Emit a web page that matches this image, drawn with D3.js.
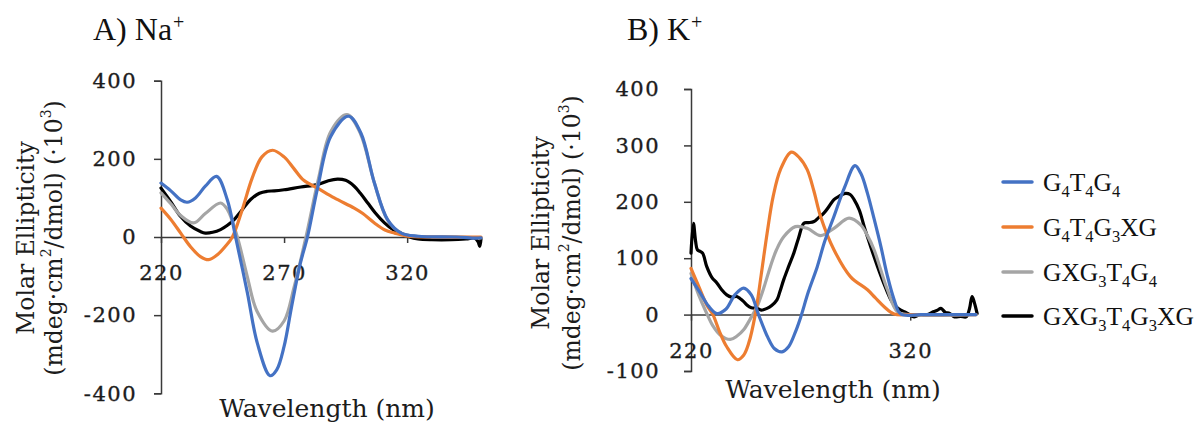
<!DOCTYPE html>
<html>
<head>
<meta charset="utf-8">
<script src="https://cdn.jsdelivr.net/npm/d3@7"></script>
<style>
  html, body { margin: 0; padding: 0; background: #fff; }
  svg { display: block; }
</style>
</head>
<body>
<svg id="chart" width="1198" height="425"></svg>
<script>
// ---- Series names and colours -------------------------------------------
const seriesNames = ["G4T4G4", "G4T4G3XG", "GXG3T4G4", "GXG3T4G3XG"];
const seriesColors = ["#4472C4", "#ED7D31", "#A5A5A5", "#000000"];

// ---- Axis ticks -----------------------------------------------------------
const naXTicks = [220, 270, 320];
const naYTicks = [-400, -200, 0, 200, 400];
const kXTicks = [220, 320];
const kYTicks = [-100, 0, 100, 200, 300, 400];

// ---- Panel A: Na+ (wavelength nm, ellipticity x10^3) ---------------------
const naBlueWl = [220, 224, 228, 230.6, 234, 238, 242.6, 246.9, 250.3, 255.1, 259.1, 264.3, 267, 270, 273, 276.5, 279.5, 283.6, 289, 296.2, 301.2, 306.7, 312.1, 317.6, 324.4, 340, 348, 350];
const naBlueCd = [138, 118, 95, 89, 100, 130, 155, 96, 0, -143, -271, -355, -340, -280, -180, -70, 0, 125, 258, 309, 266, 138, 44, 10, 2, 0, -3, -2];

const naOrangeWl = [220, 224, 228, 232, 236, 239.4, 243, 246, 249, 253, 257, 261, 265.3, 270, 274, 278, 283.6, 290.4, 298.5, 302, 306.7, 311, 314.9, 320, 330, 350];
const naOrangeCd = [74, 45, 10, -25, -50, -58, -45, -25, 0, 70, 150, 205, 222, 205, 175, 145, 125, 100, 74, 60, 36, 18, 10, 2, 0, 0];

const naGrayWl = [220, 224, 228, 233.3, 238, 244.2, 247, 251, 255, 259, 265.3, 270, 274, 278.9, 284, 289, 295.6, 301, 306.7, 312, 317.6, 324, 340, 350];
const naGrayCd = [113, 85, 55, 36, 60, 87, 70, 0, -100, -190, -241, -215, -130, 0, 150, 270, 313, 265, 138, 44, 10, 2, 0, -2];

const naBlackWl = [220, 224, 227.9, 232, 236, 238, 241, 244.2, 247, 249.6, 253, 256.4, 260, 263.2, 266, 270, 276.8, 283.6, 288, 291.7, 295, 298.5, 301, 304, 307, 310.8, 314, 317.6, 321, 324.4, 330, 338, 344, 347.5, 348.8, 349.5, 350];
const naBlackCd = [125, 90, 53, 28, 14, 10, 12, 19, 30, 44, 70, 96, 112, 117, 118, 121, 128, 134, 144, 148, 145, 130, 112, 87, 62, 36, 20, 10, 0, -5, -7, -7, -5, -3, -12, -24, -5];

// ---- Panel B: K+ ---------------------------------------------------------
const kBlueWl = [220, 224, 228, 231.8, 236, 240, 244, 247.5, 250.8, 255, 258, 261.5, 264.5, 267.5, 270, 273.5, 277.6, 281, 285.2, 290, 294.8, 297.5, 300.5, 303.5, 306.6, 309.5, 312.7, 315.7, 325, 340, 350];
const kBlueCd = [64, 40, 15, 2, 10, 35, 47, 35, 0, -40, -60, -66, -57, -32, -5, 40, 85, 130, 174, 225, 264, 250, 215, 170, 121, 70, 26, 1, 0, 0, 0];

const kOrangeWl = [220, 223, 227.2, 230, 233, 236.3, 241.2, 244, 246.3, 249.3, 252, 254.7, 257.5, 260.8, 265.7, 269.5, 273, 276, 279.1, 285.2, 292.8, 300.5, 304, 308.1, 312.7, 320, 350];
const kOrangeCd = [82, 55, 17, 0, -30, -57, -80, -72, -51, 0, 70, 144, 210, 257, 288, 278, 257, 220, 174, 115, 67, 44, 30, 14, 1, 0, 0];

const kGrayWl = [220, 223.5, 227.2, 230, 233.3, 237.9, 241, 244, 247, 250.1, 253, 256.2, 259, 262.3, 267.6, 273, 279.1, 285.2, 292.1, 297.4, 300.5, 303.5, 306.5, 309.6, 314.2, 320, 350];
const kGrayCd = [73, 35, 2, -20, -36, -44, -38, -27, -8, 14, 45, 85, 115, 138, 156, 153, 140, 153, 171, 159, 140, 115, 80, 44, 5, 0, 0];

const kBlackWl = [220, 221.1, 222.1, 222.9, 224.2, 225.3, 227.2, 229.5, 231.8, 234, 236.3, 238.5, 240.9, 242.5, 243.8, 245.5, 247.5, 250.1, 252, 254.7, 256.8, 259.2, 260.5, 262.3, 264.5, 266.9, 269, 271.5, 273.5, 276.1, 278.2, 280.6, 283, 285.2, 287.6, 290.5, 292.6, 294.4, 296.8, 299, 302, 305.1, 308, 311.2, 313.3, 315.7, 318, 321.8, 324.5, 327.9, 330.5, 332.5, 334, 336, 338, 340.2, 343, 345.5, 347, 348.2, 349.2, 350.5];
const kBlackCd = [109, 162, 130, 115, 112, 109, 85, 66, 56, 44, 35, 31, 32, 28, 24, 17, 12, 11, 8, 11, 16, 26, 40, 62, 85, 109, 135, 162, 163, 165, 172, 180, 192, 204, 210, 215, 213, 204, 185, 156, 120, 85, 55, 26, 15, 8, 4, -4, 0, 0, 5, 8, 11, 4, 2, -4, -3, -4, 10, 32, 22, 2];

// ---- Drawing ---------------------------------------------------------------
const svg = d3.select("#chart");
const axisColor = "#3a3a3a";
const textColor = "#1c1c1c";
const serifTick = "'DejaVu Serif', serif";
const serifTitle = "'Liberation Serif', 'Times New Roman', serif";
const plainNumber = d => String(d);   // hyphen-minus for negatives

function styleTickText(sel) {
  sel.attr("font-family", serifTick).attr("font-size", 21).attr("letter-spacing", 1.5)
    .attr("fill", textColor).attr("stroke", textColor).attr("stroke-width", 0.35);
}

function drawPanel(cfg) {
  const g = svg.append("g");
  const x = d3.scaleLinear().domain([220, 350]).range(cfg.xRange);
  const y = d3.scaleLinear().domain(cfg.yDomain).range(cfg.yRange);

  // y axis with outward ticks
  const yAxis = g.append("g")
    .attr("transform", `translate(${cfg.xRange[0]},0)`)
    .call(d3.axisLeft(y).tickValues(cfg.yTicks).tickSize(7).tickPadding(cfg.yPad).tickFormat(plainNumber));
  styleTickText(yAxis.selectAll("text"));

  // x axis along the zero line, ticks hanging below
  const xAxis = g.append("g")
    .attr("transform", `translate(0,${y(0)})`)
    .call(d3.axisBottom(x).tickValues(cfg.xTicks).tickSize(6).tickSizeOuter(0).tickPadding(22).tickFormat(plainNumber));
  styleTickText(xAxis.selectAll("text"));

  [yAxis, xAxis].forEach(a => {
    a.select(".domain").attr("stroke", axisColor).attr("stroke-width", 1.5);
    a.selectAll(".tick line").attr("stroke", axisColor).attr("stroke-width", 1.5);
  });

  // spectra: black underneath, blue on top
  const line = d3.line()
    .x(d => x(d[0])).y(d => y(d[1]))
    .curve(d3.curveCatmullRom.alpha(0.5));
  [3, 2, 1, 0].forEach(i => {
    const s = cfg.series[i];
    const pts = s.wl.map((w, k) => [w, s.cd[k]]);
    g.append("path")
      .datum(pts)
      .attr("fill", "none")
      .attr("stroke", seriesColors[i])
      .attr("stroke-width", 3.2)
      .attr("stroke-linejoin", "round")
      .attr("stroke-linecap", "round")
      .attr("d", line);
  });

  // y title, two lines
  const yMid = cfg.yTitleMid;
  g.append("text")
    .attr("transform", `translate(${cfg.yTitleX[0]},${yMid}) rotate(-90)`)
    .attr("text-anchor", "middle").attr("dominant-baseline", "central")
    .attr("font-family", serifTick).attr("font-size", 23.5).attr("fill", textColor)
    .text("Molar Ellipticity");
  const t2 = g.append("text")
    .attr("transform", `translate(${cfg.yTitleX[1]},${yMid}) rotate(-90)`)
    .attr("text-anchor", "middle").attr("dominant-baseline", "central")
    .attr("font-family", serifTick).attr("font-size", 23.5).attr("fill", textColor);
  t2.append("tspan").text("(mdeg·cm");
  t2.append("tspan").attr("font-size", 14).attr("dy", -8).text("2");
  t2.append("tspan").attr("dy", 8).text("/dmol) (·10");
  t2.append("tspan").attr("font-size", 14).attr("dy", -8).text("3");
  t2.append("tspan").attr("dy", 8).text(")");

  // x title
  g.append("text")
    .attr("x", cfg.xTitle[0]).attr("y", cfg.xTitle[1])
    .attr("text-anchor", "middle")
    .attr("font-family", serifTick).attr("font-size", 25).attr("fill", textColor)
    .text("Wavelength (nm)");

  // panel title
  const pt = g.append("text")
    .attr("x", cfg.title[0]).attr("y", cfg.title[1])
    .attr("font-family", serifTitle).attr("font-size", 32).attr("fill", "#111");
  pt.append("tspan").text(cfg.titleText);
  pt.append("tspan").attr("font-size", 20).attr("dx", 1).attr("dy", -11).text("+");
}

drawPanel({
  xRange: [161, 481], yDomain: [-400, 400], yRange: [393.3, 80.7],
  xTicks: naXTicks, yTicks: naYTicks, yPad: 17,
  yTitleX: [26, 54], yTitleMid: 238, xTitle: [327, 417],
  title: [93, 40], titleText: "A) Na",
  series: [
    { wl: naBlueWl, cd: naBlueCd },
    { wl: naOrangeWl, cd: naOrangeCd },
    { wl: naGrayWl, cd: naGrayCd },
    { wl: naBlackWl, cd: naBlackCd }
  ]
});

drawPanel({
  xRange: [691, 976], yDomain: [-100, 400], yRange: [371, 89],
  xTicks: kXTicks, yTicks: kYTicks, yPad: 24,
  yTitleX: [541, 572], yTitleMid: 233, xTitle: [833, 398],
  title: [627, 40], titleText: "B) K",
  series: [
    { wl: kBlueWl, cd: kBlueCd },
    { wl: kOrangeWl, cd: kOrangeCd },
    { wl: kGrayWl, cd: kGrayCd },
    { wl: kBlackWl, cd: kBlackCd }
  ]
});

// ---- Legend ----------------------------------------------------------------
const legendRowY = [182, 227, 272, 316];
const legend = svg.append("g");
seriesNames.forEach((name, i) => {
  const yy = legendRowY[i];
  legend.append("line")
    .attr("x1", 1003).attr("x2", 1032).attr("y1", yy).attr("y2", yy)
    .attr("stroke", seriesColors[i]).attr("stroke-width", 3.5).attr("stroke-linecap", "round");
  const t = legend.append("text")
    .attr("x", 1043).attr("y", yy + 8.5)
    .attr("font-family", serifTitle).attr("font-size", 25.5).attr("fill", "#111");
  // digits are written as subscripts
  const parts = name.match(/[A-Z]+|\d/g);
  let sub = false;
  parts.forEach(p => {
    const isDigit = /\d/.test(p);
    const ts = t.append("tspan").text(p);
    if (isDigit) {
      ts.attr("font-size", 16.5).attr("dy", sub ? 0 : 6);
      sub = true;
    } else {
      ts.attr("dy", sub ? -6 : 0);
      sub = false;
    }
  });
});
</script>
</body>
</html>
